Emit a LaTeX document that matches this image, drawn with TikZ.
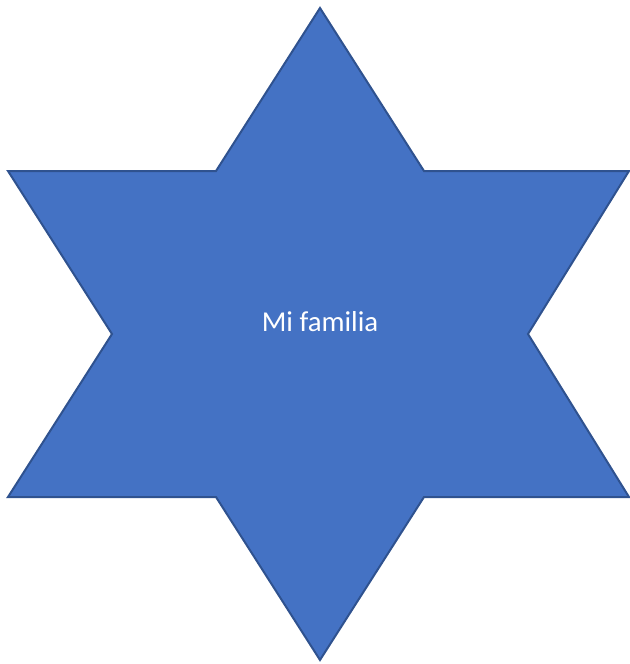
\documentclass[tikz,border=0pt]{standalone}
\usepackage{fontspec}
\setmainfont{Carlito}
\usepackage{tikz}

\definecolor{starfill}{HTML}{4472C4}
\definecolor{starline}{HTML}{2F528F}

\begin{document}
\begin{tikzpicture}[x=0.75pt, y=-0.75pt]
        \useasboundingbox (0, 0) rectangle (629, 664);
        \draw[fill=starfill, draw=starline, line width=1.5pt, line join=miter]
          (320, 8) -- (424, 171) -- (629, 171) -- (528, 334)
          -- (629, 497) -- (424, 497) -- (320, 660) -- (216, 497)
          -- (8, 497) -- (112, 334) -- (8, 171) -- (216, 171) -- cycle;
        \node[text=white, font=\fontsize{21.6}{26}\selectfont] (title)
          at (320, 322) {Mi familia};
      \end{tikzpicture}
\end{document}
